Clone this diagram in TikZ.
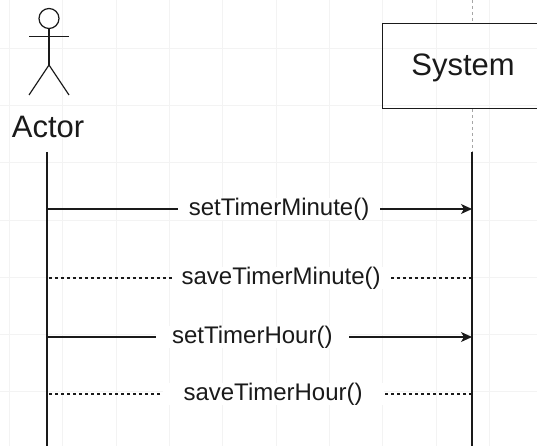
\documentclass[tikz,border=0pt]{standalone}
\usepackage{fontspec}
\setmainfont{Liberation Sans}
\usetikzlibrary{arrows.meta}
\definecolor{ink}{HTML}{1A1A1A}
\definecolor{gridc}{HTML}{F3F3F3}
\tikzset{
  life/.style={draw=ink, line width=1.2pt},
  lifedash/.style={draw=black!35, line width=0.8pt, dash pattern=on 3pt off 3pt},
  call/.style={draw=ink, line width=1.2pt, -{Stealth[length=11pt,width=10pt,inset=3pt]}},
  reply/.style={draw=ink, line width=1.1pt, dash pattern=on 3.5pt off 2.5pt},
  msg/.style={fill=white, text=ink, font=\fontsize{24}{28}\selectfont, inner ysep=0pt},
  namebig/.style={text=ink, font=\fontsize{31}{36}\selectfont, inner sep=0pt},
  figure/.style={draw=ink, line width=1.2pt}
}
\begin{document}
\begin{tikzpicture}[x=1pt,y=-1pt]
\useasboundingbox (0,0) rectangle (537,446);
\fill[white] (0,0) rectangle (537,446);
% faint background grid
\foreach \gx in {9.4,62.7,116,169.3,222.7,276,329.3,382.7,436,489.3}
  \draw[gridc, line width=1pt] (\gx,0) -- (\gx,446);
\foreach \gy in {49,106,163,220,277,334,391}
  \draw[gridc, line width=1pt] (0,\gy) -- (537,\gy);

% actor stick figure
\node[figure, circle, minimum size=20pt, inner sep=0pt] (head) at (49,18.5) {};
\coordinate (hip) at (49,65);
\coordinate (armL) at (29,36.7);
\coordinate (armR) at (69,36.7);
\coordinate (legL) at (29,95);
\coordinate (legR) at (69,95);
\draw[figure] (head.south) -- (hip);
\draw[figure] (armL) -- (armR);
\draw[figure] (legL) -- (hip) -- (legR);
\node[namebig] (actor) at (48,127) {Actor};

% system box
\node[draw=ink, line width=1.2pt, minimum width=170pt, minimum height=85.5pt, anchor=north west, inner sep=0pt] (sysbox) at (382,22.7) {};
\node[namebig] (sys) at (463,68) {System};

% lifelines
\coordinate (aTop) at (47,152);
\coordinate (aBot) at (47,446);
\coordinate (sTop0) at (472,0);
\coordinate (sTop) at (472,152);
\coordinate (sBot) at (472,446);
\draw[lifedash] (sTop0) -- (sysbox.north west -| sTop0);
\draw[lifedash] (sysbox.south west -| sTop) -- (sTop);
\draw[life] (aTop) -- (aBot);
\draw[life] (sTop) -- (sBot);

% messages
\coordinate (a1) at (47,209);  \coordinate (s1) at (472,209);
\coordinate (a2) at (47,278);  \coordinate (s2) at (472,278);
\coordinate (a3) at (47,337);  \coordinate (s3) at (472,337);
\coordinate (a4) at (47,394);  \coordinate (s4) at (472,394);

\draw[call] (a1) -- node[msg, inner xsep=11pt, pos=0.546] (m1) {setTimerMinute()} (s1);
\draw[reply] (s2) -- node[msg, inner xsep=10pt, pos=0.449] (m2) {saveTimerMinute()} (a2);
\draw[call] (a3) -- node[msg, inner xsep=16pt, pos=0.483] (m3) {setTimerHour()} (s3);
\draw[reply] (s4) -- node[msg, inner xsep=21pt, pos=0.468] (m4) {saveTimerHour()} (a4);
\end{tikzpicture}
\end{document}
